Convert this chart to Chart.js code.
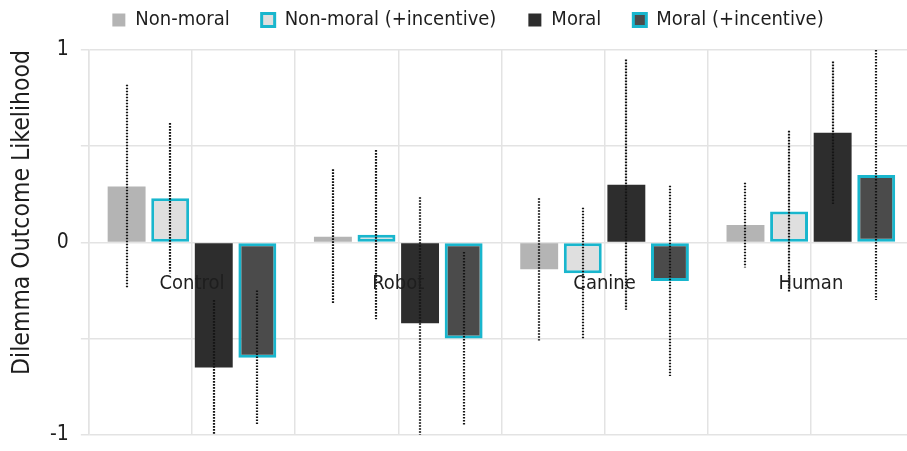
<!DOCTYPE html>
<html>
<head>
<meta charset="utf-8">
<title>Dilemma Outcome Likelihood</title>
<script src="https://cdn.jsdelivr.net/npm/chart.js@4.4.1/dist/chart.umd.min.js"></script>
<style>
  html, body { margin: 0; padding: 0; background: #fff; overflow: hidden; }
  #wrap { position: absolute; left: 0; top: 0; width: 921px; height: 451px; }
</style>
</head>
<body>
<div id="wrap"><canvas id="chart"></canvas></div>
<script>
// Agent conditions on the category axis
const categories = ['Control', 'Robot', 'Canine', 'Human'];

// Mean outcome likelihood per condition, with half-width of the error interval
const nonMoral          = [0.29, 0.03, -0.14, 0.09];
const nonMoralErr       = [0.53, 0.35, 0.37, 0.22];
const nonMoralIncentive = [0.23, 0.04, -0.16, 0.16];
const nonMoralIncErr    = [0.39, 0.44, 0.34, 0.42];
const moral             = [-0.65, -0.42, 0.30, 0.57];
const moralErr          = [0.35, 0.655, 0.65, 0.37];
const moralIncentive    = [-0.60, -0.50, -0.20, 0.35];
const moralIncErr       = [0.35, 0.45, 0.495, 0.65];

// Y axis range and labelled ticks
const yTickLabels = [-1, 0, 1];

const FONT = '"DejaVu Sans Condensed", "DejaVu Sans", sans-serif';
const TEXT = '#1e1e1e';
const GRID = '#e3e3e3';
const CYAN = '#19b6cd';

// Dotted vertical error bars, drawn over the bars and clipped to the plot
const errorBars = {
  id: 'errorBars',
  afterDatasetsDraw(chart) {
    const { ctx, chartArea, scales: { y } } = chart;
    ctx.save();
    ctx.beginPath();
    ctx.rect(chartArea.left, chartArea.top, chartArea.width, chartArea.height);
    ctx.clip();
    ctx.strokeStyle = '#151515';
    ctx.lineWidth = 2.2;
    ctx.setLineDash([1.6, 1.4]);
    chart.data.datasets.forEach((ds, di) => {
      const meta = chart.getDatasetMeta(di);
      if (meta.hidden) return;
      meta.data.forEach((bar, i) => {
        const v = ds.data[i], e = ds.errors[i];
        ctx.beginPath();
        ctx.moveTo(Math.round(bar.x), y.getPixelForValue(v + e));
        ctx.lineTo(Math.round(bar.x), y.getPixelForValue(v - e));
        ctx.stroke();
      });
    });
    ctx.restore();
  }
};

// Leave some room between the legend row and the plot
const legendGap = {
  id: 'legendGap',
  afterInit(chart) {
    const legend = chart.legend;
    if (!legend) return;
    const fit = legend.fit;
    legend.fit = function () {
      fit.call(this);
      this.height += 10;
    };
  }
};

const barCommon = {
  xAxisID: 'x',
  yAxisID: 'y',
  categoryPercentage: 0.845,
  barPercentage: 0.87,
  borderSkipped: false
};

new Chart(document.getElementById('chart'), {
  type: 'bar',
  data: {
    labels: categories,
    datasets: [
      Object.assign({ label: 'Non-moral', data: nonMoral, errors: nonMoralErr,
        backgroundColor: '#b4b4b4', borderWidth: 0 }, barCommon),
      Object.assign({ label: 'Non-moral (+incentive)', data: nonMoralIncentive, errors: nonMoralIncErr,
        backgroundColor: '#dfdfdf', borderColor: CYAN, borderWidth: 3 }, barCommon),
      Object.assign({ label: 'Moral', data: moral, errors: moralErr,
        backgroundColor: '#2d2d2d', borderWidth: 0 }, barCommon),
      Object.assign({ label: 'Moral (+incentive)', data: moralIncentive, errors: moralIncErr,
        backgroundColor: '#4b4b4b', borderColor: CYAN, borderWidth: 3 }, barCommon)
    ]
  },
  options: {
    responsive: true,
    maintainAspectRatio: false,
    animation: false,
    layout: { padding: { top: -22, left: 22, right: 7, bottom: 0 } },
    plugins: {
      tooltip: { enabled: false },
      legend: {
        position: 'top',
        labels: {
          boxWidth: 13,
          boxHeight: 13,
          padding: 32,
          color: TEXT,
          font: { family: FONT, size: 20 }
        }
      }
    },
    scales: {
      // category labels sit just under the zero line, drawn above the bars;
      // its grid marks the category centres
      x: {
        type: 'category',
        axis: 'x',
        position: { y: 0 },
        offset: true,
        grid: { offset: false, color: GRID, lineWidth: 1.5, drawTicks: false },
        border: { display: false },
        ticks: { padding: 29, color: TEXT, font: { family: FONT, size: 20 }, z: 1 }
      },
      // grid lines on the boundaries between categories
      xBounds: {
        type: 'category',
        axis: 'x',
        labels: categories,
        position: { y: 0 },
        offset: true,
        grid: { offset: true, color: GRID, lineWidth: 1.5, drawTicks: false },
        border: { display: false },
        ticks: { display: false }
      },
      y: {
        type: 'linear',
        position: 'left',
        min: yTickLabels[0],
        max: yTickLabels[yTickLabels.length - 1],
        grid: { color: GRID, lineWidth: 1.5, tickLength: 8 },
        border: { display: true, color: GRID, width: 1.5 },
        ticks: {
          stepSize: 0.5,
          padding: 12,
          color: TEXT,
          font: { family: FONT, size: 21, lineHeight: 0.4 },
          callback: (v) => (yTickLabels.includes(v) ? String(v) : '')
        },
        title: {
          display: true,
          text: 'Dilemma Outcome Likelihood',
          align: 'end',
          color: TEXT,
          font: { family: FONT, size: 24.5 },
          padding: { top: -13.7, bottom: 0.3 }
        }
      }
    }
  },
  plugins: [errorBars, legendGap]
});
</script>
</body>
</html>
